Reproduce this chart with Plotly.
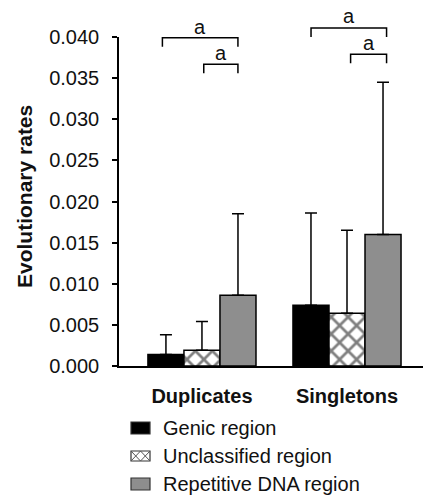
import plotly.graph_objects as go

groups = ["Duplicates", "Singletons"]
series = ["Genic region", "Unclassified region", "Repetitive DNA region"]
values = {
    "Genic region": [0.0014, 0.0074],
    "Unclassified region": [0.0019, 0.0064],
    "Repetitive DNA region": [0.0086, 0.0160],
}
errors_up = {
    "Genic region": [0.0024, 0.0112],
    "Unclassified region": [0.0035, 0.0101],
    "Repetitive DNA region": [0.0099, 0.0185],
}
y_ticks = [0.000, 0.005, 0.010, 0.015, 0.020, 0.025, 0.030, 0.035, 0.040]
sig_label = "a"

FONT = "Liberation Sans, Arial, sans-serif"
TXT = "#111111"
fills = {"Genic region": "#000000", "Unclassified region": "#ffffff", "Repetitive DNA region": "#8e8e8e"}

# layout geometry (pixels); body margin removed via post_script
W, H = 423, 496
L, T, R, B = 119, 37, 0, 130
PW, PH = W - L - R, H - T - B


def px(x):  # page pixel x -> paper
    return (x - L) / PW


def py(y):  # page pixel y -> paper
    return (H - B - y) / PH


x_pos = list(range(len(groups)))
fig = go.Figure()
for s in series:
    marker = dict(color=fills[s], line=dict(color="#000000", width=1.5))
    if s == "Unclassified region":
        marker["pattern"] = dict(shape="x", fgcolor="#000000", bgcolor="#ffffff", size=12, solidity=0.4)
    fig.add_trace(go.Bar(
        x=x_pos, y=values[s], name=s, marker=marker, showlegend=False,
        error_y=dict(type="data", symmetric=False, array=errors_up[s],
                     arrayminus=[0] * len(groups), color="#000000", thickness=1.5, width=6),
    ))

bar_w = 0.248
ymax = 0.04
shapes = []
annotations = []
# brackets: (group, start offset, end offset, level, label level)
brackets = [
    (0, -1.1, 1.0, 0.0399, 0.0412),
    (0, 0.05, 1.0, 0.0367, 0.0380),
    (1, -1.0, 1.1, 0.0411, 0.0426),
    (1, 0.1, 1.1, 0.0379, 0.0393),
]
drop = 0.0011
for g, a, b, lvl, lab in brackets:
    x0 = g + a * bar_w
    x1 = g + b * bar_w
    shapes.append(dict(type="path", xref="x", yref="paper",
                       path=f"M {x0},{(lvl - drop) / ymax} L {x0},{lvl / ymax} L {x1},{lvl / ymax} L {x1},{(lvl - drop) / ymax}",
                       line=dict(color="#000000", width=1.5)))
    annotations.append(dict(x=(x0 + x1) / 2, y=lab / ymax, xref="x", yref="paper", text=sig_label,
                            showarrow=False, font=dict(size=20, color=TXT, family=FONT),
                            yanchor="middle", xanchor="center"))

# y-axis title
annotations.append(dict(x=px(25), y=py(197), xref="paper", yref="paper", text="<b>Evolutionary rates</b>",
                        textangle=-90, showarrow=False, font=dict(size=21, color=TXT, family=FONT),
                        xanchor="center", yanchor="middle"))

# manual legend
leg_rows = [428, 456, 484]
sym_x0, sym_x1 = 131, 150
for s, yc in zip(series, leg_rows):
    y0, y1 = yc - 6, yc + 6
    if s == "Unclassified region":
        y0, y1 = yc - 5, yc + 5
    shapes.append(dict(type="rect", xref="paper", yref="paper",
                       x0=px(sym_x0), x1=px(sym_x1), y0=py(y1), y1=py(y0),
                       fillcolor=fills[s], line=dict(color="#333333", width=1.2)))
    if s == "Unclassified region":
        xm = (sym_x0 + sym_x1) / 2
        path = (f"M {px(sym_x0)},{py(y0)} L {px(xm)},{py(y1)} L {px(sym_x1)},{py(y0)} "
                f"M {px(sym_x0)},{py(y1)} L {px(xm)},{py(y0)} L {px(sym_x1)},{py(y1)}")
        shapes.append(dict(type="path", xref="paper", yref="paper", path=path,
                           line=dict(color="#555555", width=1)))
    annotations.append(dict(x=px(161), y=py(yc), xref="paper", yref="paper", text=s,
                            showarrow=False, font=dict(size=20, color=TXT, family=FONT),
                            xanchor="left", yanchor="middle"))

fig.update_layout(
    width=W, height=H,
    margin=dict(l=L, r=R, t=T, b=B, autoexpand=False),
    paper_bgcolor="#ffffff", plot_bgcolor="#ffffff",
    barmode="group", bargap=0.255, bargroupgap=0,
    font=dict(family=FONT, size=20, color=TXT),
    showlegend=False,
    hovermode=False,
    xaxis=dict(range=[-0.572, 1.524], tickvals=x_pos, ticktext=[f"<b>{g}</b>" for g in groups],
               showline=True, linecolor="#000000", linewidth=1.5, ticks="outside", ticklen=11,
               tickcolor="rgba(0,0,0,0)", showgrid=False, automargin=False,
               zeroline=False, tickfont=dict(size=20, family=FONT, color=TXT)),
    yaxis=dict(range=[0, ymax], tickvals=y_ticks, ticktext=[f"{v:.3f}" for v in y_ticks],
               showline=True, linecolor="#000000", linewidth=1.5, ticks="outside", ticklen=5,
               tickwidth=1.5, tickcolor="#000000", showgrid=False, zeroline=False, automargin=False,
               ticklabelstandoff=9,
               tickfont=dict(size=20, family=FONT, color=TXT)),
    shapes=shapes, annotations=annotations,
)
fig.write_html("out.html", config={"displayModeBar": False},
               post_script="document.body.style.margin='0';document.body.style.overflow='hidden';")
